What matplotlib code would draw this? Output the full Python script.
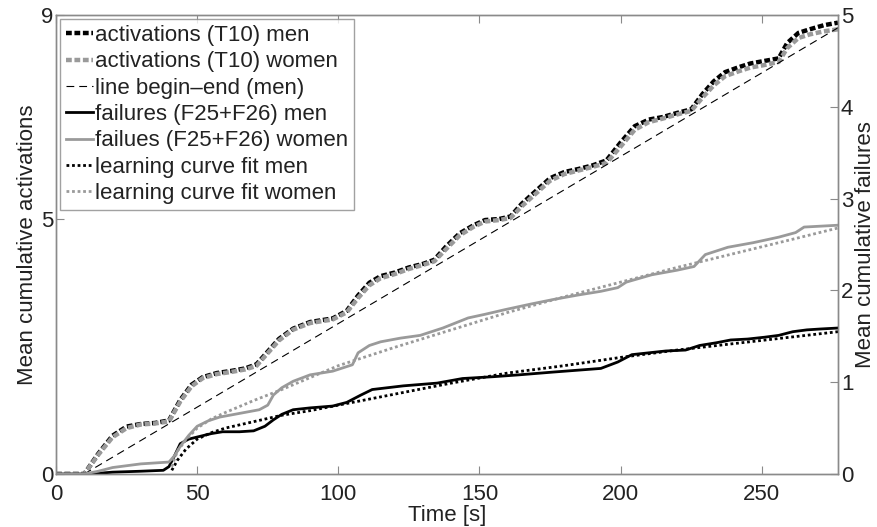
import matplotlib
matplotlib.use('Agg')
import matplotlib.pyplot as plt

plt.rcParams['font.family'] = ['Liberation Sans', 'DejaVu Sans']

# activations (left axis)
act_x = [0, 10, 15, 20, 25, 30, 35, 40, 44, 48, 52, 57, 62, 67, 71, 75, 79, 84, 90, 98,
         103, 107, 111, 115, 120, 125, 130, 134, 138, 143, 148, 152, 157, 161, 165, 170,
         175, 180, 185, 190, 195, 200, 205, 210, 215, 220, 225, 229, 233, 237, 242, 246,
         251, 256, 259, 263, 267, 272, 277]
act_men = [0, 0, 0.4, 0.75, 0.93, 0.98, 1.0, 1.05, 1.45, 1.75, 1.9, 1.98, 2.02, 2.07, 2.15,
           2.4, 2.65, 2.85, 2.98, 3.05, 3.2, 3.5, 3.75, 3.88, 3.95, 4.05, 4.12, 4.2, 4.45,
           4.72, 4.88, 4.98, 5.0, 5.05, 5.3, 5.55, 5.8, 5.92, 5.98, 6.05, 6.15, 6.5, 6.82,
           6.95, 7.0, 7.08, 7.15, 7.45, 7.7, 7.88, 7.98, 8.05, 8.1, 8.15, 8.45, 8.65, 8.72,
           8.8, 8.85]
act_women = [0, 0, 0.38, 0.72, 0.9, 0.97, 0.99, 1.03, 1.42, 1.72, 1.88, 1.96, 2.0, 2.05,
             2.12, 2.37, 2.62, 2.83, 2.96, 3.03, 3.17, 3.45, 3.7, 3.84, 3.92, 4.02, 4.1,
             4.17, 4.4, 4.68, 4.85, 4.95, 4.98, 5.02, 5.25, 5.5, 5.75, 5.88, 5.95, 6.02,
             6.1, 6.42, 6.75, 6.9, 6.97, 7.05, 7.12, 7.38, 7.62, 7.8, 7.9, 7.97, 8.02,
             8.08, 8.35, 8.55, 8.62, 8.68, 8.72]
line_x = [10, 277]
line_y = [0, 8.75]

# failures (right axis)
fail_men_x = [0, 12, 20, 30, 38, 40, 42, 44, 47, 51, 55, 59, 65, 70, 74, 77, 80, 84, 90, 98,
              103, 108, 112, 123, 135, 144, 155, 164, 176, 193, 199, 204, 210, 216, 223,
              228, 234, 239, 245, 251, 256, 261, 266, 271, 277]
fail_men = [0, 0, 0.02, 0.03, 0.04, 0.08, 0.2, 0.33, 0.38, 0.41, 0.44, 0.46, 0.46, 0.47,
            0.52, 0.59, 0.65, 0.7, 0.72, 0.74, 0.78, 0.86, 0.92, 0.96, 0.99, 1.04, 1.06,
            1.08, 1.11, 1.15, 1.22, 1.3, 1.32, 1.34, 1.35, 1.4, 1.43, 1.46, 1.47, 1.49,
            1.51, 1.55, 1.57, 1.58, 1.59]
fail_women_x = [0, 10, 15, 20, 30, 40, 42, 44, 47, 50, 54, 58, 65, 72, 75, 77, 80, 84, 90,
                98, 105, 107, 111, 115, 122, 129, 137, 146, 152, 159, 168, 176, 185, 193,
                199, 202, 211, 220, 226, 230, 238, 247, 256, 262, 265, 277]
fail_women = [0, 0, 0.03, 0.07, 0.11, 0.13, 0.2, 0.3, 0.42, 0.52, 0.58, 0.62, 0.66, 0.7,
              0.75, 0.86, 0.94, 1.01, 1.08, 1.12, 1.19, 1.32, 1.4, 1.44, 1.48, 1.51, 1.59,
              1.7, 1.74, 1.79, 1.85, 1.9, 1.95, 1.99, 2.03, 2.09, 2.17, 2.22, 2.26, 2.39,
              2.47, 2.52, 2.58, 2.63, 2.69, 2.71]
fit_x = [41, 43, 46, 50, 55, 60, 70, 80, 90, 100, 120, 140, 160, 180, 200, 220, 240, 260, 277]
fit_men = [0.04, 0.15, 0.27, 0.38, 0.45, 0.5, 0.57, 0.64, 0.69, 0.75, 0.87, 0.99, 1.1,
           1.18, 1.27, 1.35, 1.42, 1.49, 1.55]
fit_women = [0.08, 0.25, 0.37, 0.5, 0.6, 0.67, 0.8, 0.92, 1.05, 1.18, 1.38, 1.57, 1.76,
             1.93, 2.09, 2.25, 2.4, 2.55, 2.68]

x_ticks = [0, 50, 100, 150, 200, 250]
left_ticks = [0, 5, 9]
right_ticks = [0, 1, 2, 3, 4, 5]

black = '#000000'
gray = '#9a9a9a'
txt = '#222222'
spine = '#8a8a8a'
fs = 16

fig = plt.figure(figsize=(8.77, 5.27), dpi=100)
ax = fig.add_axes([0.0639, 0.1006, 0.8916, 0.8709])
ax2 = ax.twinx()

h1, = ax.plot(act_x, act_men, color=black, lw=3.2, linestyle=(0, (1.3, 0.6)))
h2, = ax.plot(act_x, act_women, color=gray, lw=3.2, linestyle=(0, (1.3, 0.6)))
h3, = ax.plot(line_x, line_y, color=black, lw=0.8, linestyle=(0, (7, 4.5)))
h4, = ax2.plot(fail_men_x, fail_men, color=black, lw=2)
h5, = ax2.plot(fail_women_x, fail_women, color=gray, lw=2)
h6, = ax2.plot(fit_x, fit_men, color=black, lw=2, linestyle=(0, (1, 1)))
h7, = ax2.plot(fit_x, fit_women, color=gray, lw=2, linestyle=(0, (1, 1)))

ax.set_xlim(0, 277)
ax.set_ylim(0, 9)
ax2.set_ylim(0, 5)
ax.set_xticks(x_ticks)
ax.set_yticks(left_ticks)
ax2.set_yticks(right_ticks)

for a in (ax, ax2):
    for s in a.spines.values():
        s.set_color(spine)
        s.set_linewidth(1)
    a.tick_params(direction='in', length=6, color=spine, labelsize=fs,
                  labelcolor=txt, pad=2)
ax.tick_params(top=True)
ax.tick_params(axis='x', pad=7)

ax.set_xlabel('Time [s]', fontsize=fs, color=txt, labelpad=0)
ax.set_ylabel('Mean cumulative activations', fontsize=fs, color=txt, labelpad=2)
ax2.set_ylabel('Mean cumulative failures', fontsize=fs, color=txt, labelpad=1)

labels = ['activations (T10) men', 'activations (T10) women', 'line begin\u2013end (men)',
          'failures (F25+F26) men', 'failues (F25+F26) women', 'learning curve fit men',
          'learning curve fit women']
leg = ax2.legend([h1, h2, h3, h4, h5, h6, h7], labels, loc='upper left', fontsize=fs,
                 frameon=True, fancybox=False, edgecolor=spine, borderaxespad=0.2,
                 handlelength=1.2, handletextpad=0.1, labelspacing=0.24, borderpad=0.25)
leg.get_frame().set_linewidth(1)
for t in leg.get_texts():
    t.set_color(txt)

fig.savefig('out.png', dpi=100)
